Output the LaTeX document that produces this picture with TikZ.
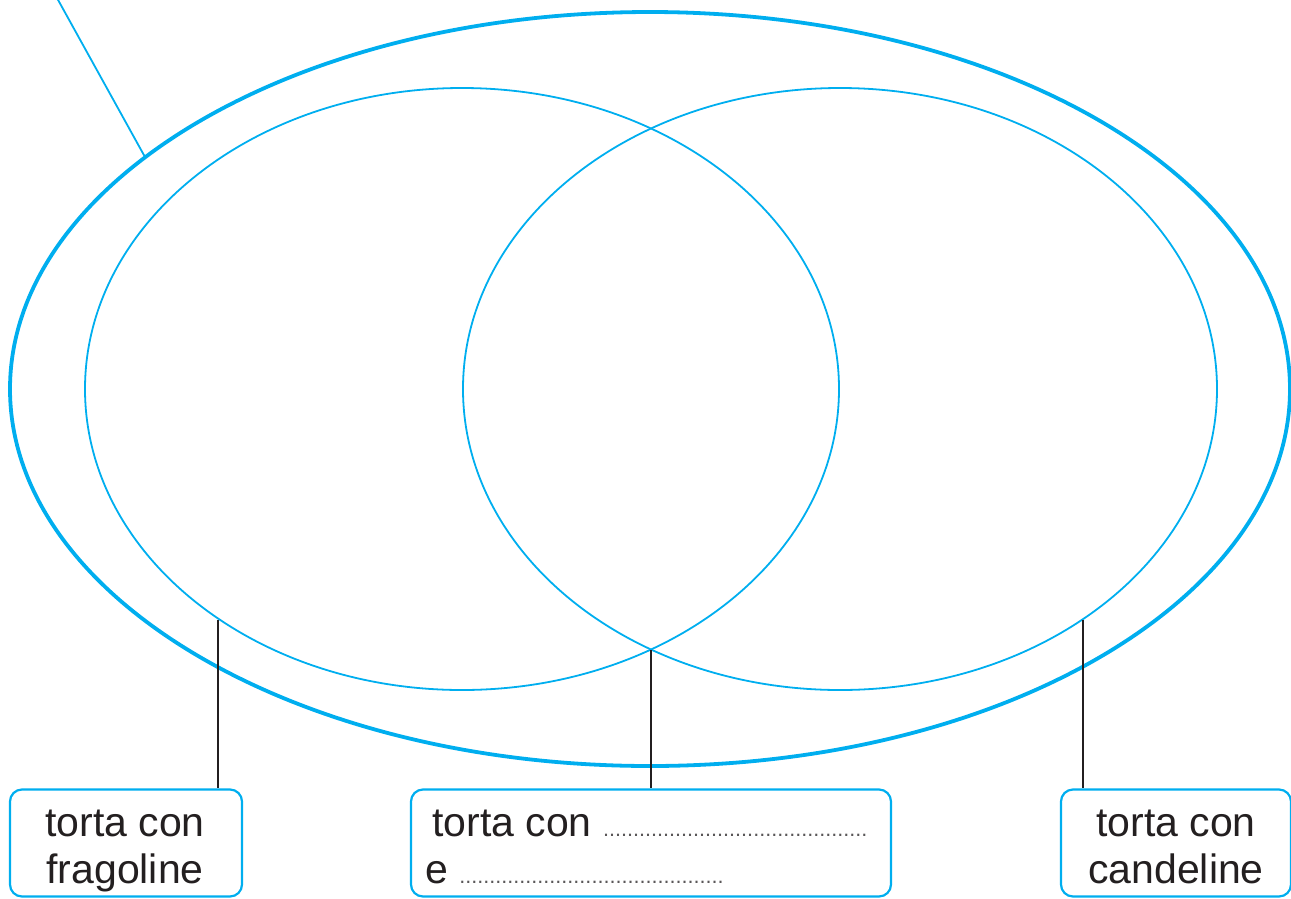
\documentclass[tikz,border=0pt]{standalone}
\usepackage{fontspec}
\setmainfont{Liberation Sans}
\definecolor{cyanB}{HTML}{00AEEF}
\definecolor{ink}{HTML}{231F20}
\newcommand{\dotrow}[1]{{\fontsize{21.6}{21.6}\selectfont\color{ink!75}\foreach \i in {1,...,#1}{.}}}
\begin{document}
\begin{tikzpicture}[x=1pt,y=-1pt,
  txt/.style={text=ink,font=\fontsize{41}{47}\selectfont,inner sep=0pt},
  labelbox/.style={draw=cyanB,line width=2.2pt,rounded corners=12pt,minimum height=107pt,inner sep=0pt},
  lead/.style={draw=ink,line width=2pt},
  setline/.style={draw=cyanB,line width=1.8pt}]
\useasboundingbox (0,0) rectangle (1291,898);
% sets
\draw[draw=cyanB,line width=3.8pt] (650,389) ellipse [x radius=640, y radius=377];
\draw[setline] (462,389) ellipse [x radius=377, y radius=301];
\draw[setline] (840,389) ellipse [x radius=377, y radius=301];
\coordinate (tl) at (57,-2);
\coordinate (te) at (145,157);
\draw[setline] (tl) -- (te);
% boxes
\node[labelbox,minimum width=232pt] (lbox) at (126,843) {};
\node[labelbox,minimum width=480pt] (mbox) at (651,843) {};
\node[labelbox,minimum width=230pt] (rbox) at (1176,843) {};
\node[txt,anchor=base] (l1) at (125,836) {torta con};
\node[txt,anchor=base] (l2) at (125,883) {fragoline};
\node[txt,anchor=base] (r1) at (1176,836) {torta con};
\node[txt,anchor=base] (r2) at (1176,883) {candeline};
\node[txt,anchor=base west] (m1) at (432,836) {torta con \dotrow{44}};
\node[txt,anchor=base west] (m2) at (425,883) {e \dotrow{44}};
% leaders
\coordinate (p1) at (218,620);
\coordinate (p2) at (651,650);
\coordinate (p3) at (1083,620);
\draw[lead] (p1) -- (p1 |- lbox.north);
\draw[lead] (p2) -- (p2 |- mbox.north);
\draw[lead] (p3) -- (p3 |- rbox.north);
\end{tikzpicture}
\end{document}
